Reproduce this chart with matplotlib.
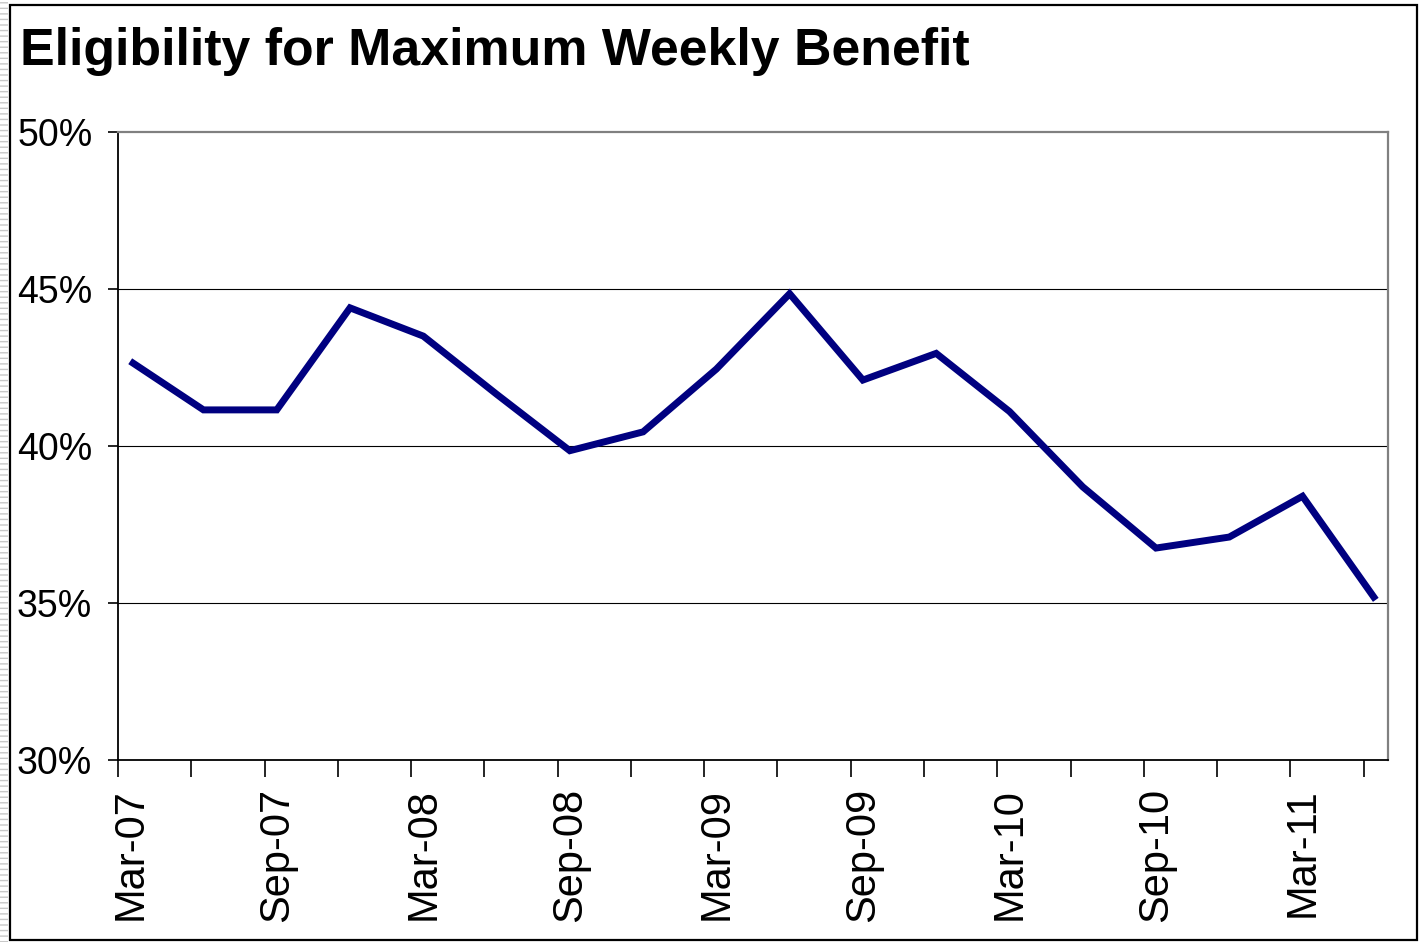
import matplotlib.pyplot as plt
import numpy as np
from matplotlib.patches import Rectangle
from matplotlib.ticker import FuncFormatter

plt.rcParams["font.family"] = ["Liberation Sans", "DejaVu Sans"]

# Quarterly observations, March 2007 to June 2011
quarters = ["Mar-07", "Jun-07", "Sep-07", "Dec-07", "Mar-08", "Jun-08",
            "Sep-08", "Dec-08", "Mar-09", "Jun-09", "Sep-09", "Dec-09",
            "Mar-10", "Jun-10", "Sep-10", "Dec-10", "Mar-11", "Jun-11"]
eligibility_pct = [42.7, 41.15, 41.15, 44.4, 43.5, 41.65,
                   39.85, 40.45, 42.45, 44.85, 42.1, 42.95,
                   41.1, 38.7, 36.75, 37.1, 38.4, 35.1]
tick_labels = ["Mar-07", "Sep-07", "Mar-08", "Sep-08", "Mar-09",
               "Sep-09", "Mar-10", "Sep-10", "Mar-11"]
y_ticks = [30, 35, 40, 45, 50]

W, H = 1420, 942
fig = plt.figure(figsize=(W / 100, H / 100), dpi=100)

# month index from Mar-07; each point sits in the middle of its month
month_of = {q: 3 * i for i, q in enumerate(quarters)}
x = np.array([month_of[q] for q in quarters]) + 0.5

ax = fig.add_axes([118 / W, 1 - 760 / H, 1270 / W, 628 / H])
ax.plot(x, eligibility_pct, color="#000080", lw=5,
        solid_joinstyle="miter", solid_capstyle="butt", zorder=3)

ax.set_xlim(0, 52)
ax.set_ylim(y_ticks[0], y_ticks[-1])

# tick marks every quarter, labels every half year centred in the month
ax.set_xticks(np.arange(0, 52, 3))
ax.set_xticklabels([])
ax.set_xticks([month_of[t] + 0.5 for t in tick_labels], minor=True)
ax.set_xticklabels(tick_labels, minor=True, rotation=90, fontsize=30)
ax.tick_params(axis="x", which="major", length=12, width=1.2, color="black",
               direction="out")
ax.tick_params(axis="x", which="minor", length=0, pad=20)

ax.set_yticks(y_ticks)
ax.yaxis.set_major_formatter(FuncFormatter(lambda v, _: f"{v:.0f}%"))
ax.tick_params(axis="y", length=7.5, width=1.2, pad=11, labelsize=27,
               direction="out")

for v in y_ticks[1:-1]:
    ax.axhline(v, color="black", lw=0.8, zorder=1)

for side in ["left", "bottom"]:
    ax.spines[side].set_color("black")
    ax.spines[side].set_linewidth(1.3)
for side in ["top", "right"]:
    ax.spines[side].set_color("#808080")
    ax.spines[side].set_linewidth(1.6)

fig.text(20 / W, 1 - 65 / H, "Eligibility for Maximum Weekly Benefit",
         fontsize=37.4, fontweight="bold", va="baseline", ha="left")

# outer frame and the faint striped strip on the far left
fig.patches.append(Rectangle((0, 0), 8 / W, 1, transform=fig.transFigure,
                             facecolor="white", edgecolor="#c8c8c8",
                             hatch="---", lw=0))
fig.patches.append(Rectangle((10 / W, 2 / H), 1407 / W, 935 / H,
                             transform=fig.transFigure, fill=False,
                             edgecolor="black", lw=1.6))

fig.savefig("out.png", dpi=100)
